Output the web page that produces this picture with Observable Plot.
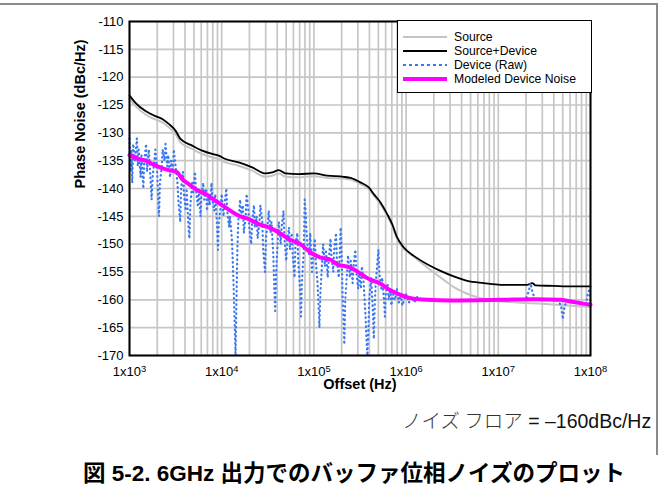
<!DOCTYPE html>
<html>
<head>
<meta charset="utf-8">
<script src="https://cdn.jsdelivr.net/npm/d3@7"></script>
<script src="https://cdn.jsdelivr.net/npm/@observablehq/plot@0.6"></script>
<style>
  html, body { margin: 0; padding: 0; background: white; }
  #wrap { position: relative; width: 663px; height: 495px; overflow: hidden; font-family: "Liberation Sans", Arial, sans-serif; }
  #chart { position: absolute; left: 0; top: 0; }
  #outer { position: absolute; left: -4px; top: 3px; width: 662px; height: 452px; border-top: 2px solid #8a8a8a; border-right: 2px solid #8a8a8a; box-sizing: border-box; }
  #legend { position: absolute; left: 397px; top: 20px; width: 195px; height: 73px; background: white; border: 1.5px solid black; box-sizing: border-box; }
  #legend .row { position: absolute; left: 0; height: 12px; font-size: 12.2px; line-height: 12px; }
  #legend svg { position: absolute; left: 5px; top: 0; }
  #legend span { position: absolute; left: 56px; top: 0; white-space: nowrap; }
  #note { position: absolute; left: 402px; top: 405px; font-size: 19.5px; white-space: nowrap; color: #111; }
  #note .jp { font-family: "Noto Sans CJK JP", sans-serif; font-weight: 300; color: #333; }
  #caption { position: absolute; left: 0; width: 708px; text-align: center; top: 455px; font-size: 22.5px; font-weight: bold; white-space: nowrap; font-family: "Liberation Sans", "Noto Sans CJK JP", sans-serif; }
</style>
</head>
<body>
<div id="wrap">
  <div id="outer"></div>
  <div id="chart"></div>
  <div id="legend"></div>
  <div id="note"><span class="jp">ノイズ フロア</span> = –160dBc/Hz</div>
  <div id="caption">図 5-2. 6GHz 出力でのバッファ位相ノイズのプロット</div>
</div>
<script>
// ---- Data (offset frequency given as log10 exponent, noise in dBc/Hz) ----
const seriesNames = ["Source", "Source+Device", "Device (Raw)", "Modeled Device Noise"];
const yTicks = [-110, -115, -120, -125, -130, -135, -140, -145, -150, -155, -160, -165, -170];
const decadeExps = [3, 4, 5, 6, 7, 8];
const minorMultipliers = [1, 2, 3, 4, 5, 6, 7, 8, 9];

const sourceExp = [3.00,3.065,3.174,3.282,3.355,3.426,3.499,3.553,3.68,3.789,3.897,3.969,4.041,4.185,4.331,4.475,4.548,4.62,4.692,4.836,4.999,5.144,5.324,5.397,5.505,5.595,5.649,5.722,5.795,5.849,5.903,5.975,6.048,6.229,6.373,6.517,6.663,6.807,7.024,7.385,7.747,8.0];
const sourceDb  = [-123.9,-125.2,-126.7,-127.6,-128.1,-129.0,-130.2,-131.7,-132.9,-133.8,-134.4,-134.7,-135.3,-135.9,-136.8,-137.9,-137.7,-137.3,-137.9,-138.0,-137.8,-138.1,-138.2,-138.4,-139.2,-140.1,-141.3,-142.8,-144.9,-146.7,-149.1,-150.9,-151.8,-154.2,-156.0,-157.7,-158.9,-159.7,-160.3,-160.6,-161.0,-161.3];

const srcDevExp = [3.00,3.065,3.174,3.282,3.355,3.426,3.499,3.553,3.68,3.789,3.897,3.969,4.041,4.185,4.331,4.475,4.548,4.62,4.692,4.836,4.999,5.144,5.324,5.397,5.505,5.595,5.649,5.722,5.795,5.849,5.903,5.975,6.084,6.229,6.373,6.517,6.663,6.843,7.024,7.313,7.368,7.404,7.603,7.747,8.0];
const srcDevDb  = [-123.3,-124.6,-126.1,-127.0,-127.5,-128.4,-129.6,-131.1,-132.3,-133.2,-133.8,-134.1,-134.7,-135.3,-136.2,-137.3,-137.1,-136.7,-137.3,-137.4,-137.3,-137.7,-137.9,-138.1,-138.9,-139.8,-141.0,-142.5,-144.6,-146.4,-148.8,-150.6,-152.1,-153.6,-154.8,-155.8,-156.6,-157.0,-157.3,-157.3,-157.0,-157.4,-157.5,-157.6,-157.6];

const rawExp = [3.00,3.01,3.02,3.03,3.04,3.06,3.08,3.09,3.10,3.12,3.13,3.15,3.16,3.18,3.19,3.21,3.22,3.24,3.25,3.27,3.28,3.30,3.31,3.32,3.33,3.35,3.36,3.38,3.39,3.41,3.42,3.44,3.45,3.47,3.48,3.50,
3.52,3.53,3.55,3.56,3.58,3.59,3.61,3.62,3.64,3.65,3.66,3.68,3.69,3.71,3.72,3.74,3.75,3.77,3.78,3.80,3.81,3.83,3.84,3.86,3.87,3.89,3.90,3.92,3.93,3.95,3.96,3.97,3.99,
4.00,4.02,4.03,4.05,4.06,4.08,4.09,4.11,4.12,4.13,4.14,4.15,4.16,4.17,4.18,4.20,4.21,4.23,4.24,4.26,4.27,4.29,4.30,4.32,4.33,4.35,4.36,4.38,4.39,4.41,4.42,4.44,4.45,4.47,4.48,4.50,
4.51,4.53,4.54,4.56,4.57,4.58,4.59,4.61,4.62,4.64,4.65,4.67,4.68,4.70,4.71,4.73,4.74,4.76,4.77,4.79,4.80,4.82,4.83,4.85,4.86,4.87,4.89,4.90,4.91,4.92,4.93,4.95,4.96,4.98,4.99,
5.01,5.02,5.04,5.05,5.06,5.07,5.09,5.10,5.12,5.13,5.15,5.16,5.18,5.19,5.21,5.22,5.24,5.25,5.27,5.28,5.29,5.30,5.31,5.32,5.33,5.34,5.36,5.37,5.39,5.40,5.42,5.43,5.45,5.46,5.48,
5.49,5.51,5.52,5.54,5.55,5.56,5.57,5.58,5.59,5.60,5.62,5.63,5.64,5.65,5.66,5.67,5.69,5.70,5.71,5.73,5.74,5.76,5.77,5.78,5.80,5.81,5.83,5.84,5.86,5.88,5.90,5.92,5.94,5.96,5.98,
6.00,6.03,6.06,6.09,6.12,6.15,6.18,6.22,6.26,6.30,6.50,6.80,7.00,7.20,7.30,7.33,7.35,7.37,7.40,7.55,7.65,7.68,7.70,7.72,7.75,7.85,7.95,7.97,7.99,8.00];
const rawDb = [-131,-137,-133,-139,-132,-135,-131,-136,-133,-138,-134,-140,-135,-132,-137,-133,-136,-142,-138,-135,-133,-137,-141,-145,-139,-136,-133,-135,-132,-136,-134,-138,-135,-137,-133,-136,
-139,-142,-146,-140,-137,-141,-144,-140,-147,-149,-143,-139,-141,-137,-140,-143,-140,-145,-141,-139,-142,-140,-144,-141,-143,-139,-142,-144,-141,-147,-151,-146,-143,
-141,-145,-143,-140,-144,-147,-145,-149,-153,-158,-164,-170,-160,-151,-146,-142,-145,-143,-148,-145,-141,-144,-147,-150,-146,-143,-147,-145,-149,-146,-143,-146,-151,-155,-149,-146,
-144,-148,-146,-152,-158,-162,-155,-149,-146,-150,-147,-144,-149,-153,-150,-147,-151,-148,-152,-156,-150,-148,-153,-158,-163,-157,-151,-142,-144,-148,-150,-152,-148,-155,-152,
-149,-153,-157,-161,-165,-159,-153,-150,-154,-151,-156,-153,-149,-152,-155,-151,-148,-153,-156,-152,-147,-151,-158,-163,-168,-160,-155,-152,-156,-153,-157,-154,-151,-155,-158,
-155,-158,-154,-157,-160,-163,-167,-170,-166,-160,-156,-159,-162,-167,-161,-157,-153,-151,-155,-158,-156,-160,-163,-159,-157,-160,-158,-161,-159,-160,-158,-160.5,-159,-161,-160,
-159,-160.5,-159.5,-160.5,-159.5,-160,-159.8,-160.2,-160,-160.1,-160.1,-160.1,-160,-160,-159.8,-158.5,-157,-158.5,-160,-160,-160.2,-161,-163.5,-161,-160.3,-160.5,-160.8,-159,-158,-160.5];

const modelExp = [3.00,3.101,3.174,3.246,3.318,3.426,3.517,3.572,3.643,3.716,3.824,3.933,4.041,4.185,4.294,4.402,4.511,4.619,4.728,4.855,4.963,5.072,5.180,5.253,5.397,5.505,5.578,5.722,5.831,5.939,6.048,6.229,6.482,7.024,7.385,7.675,7.819,8.0];
const modelDb  = [-134.0,-134.7,-135.0,-135.6,-136.1,-136.7,-137.1,-138.3,-139.2,-140.1,-141.0,-142.2,-143.4,-144.9,-145.5,-146.4,-147.0,-147.9,-149.1,-150.0,-151.5,-152.4,-152.8,-153.6,-154.2,-155.3,-156.1,-157.1,-158.3,-159.1,-159.7,-160.0,-160.1,-160.0,-159.9,-160.0,-160.4,-160.9];

const colors = ["#c4c4c4", "#000000", "#3b78f0", "#ff00ff"];
const widths = [2, 1.8, 2.2, 4];
const dashes = [null, null, "0.5,4", null];

// ---- build tables ----
const toRows = (exps, dbs) => exps.map((e, i) => ({f: Math.pow(10, e), db: dbs[i]}));
const source = toRows(sourceExp, sourceDb);
const srcDev = toRows(srcDevExp, srcDevDb);
const raw = toRows(rawExp, rawDb);
const model = toRows(modelExp, modelDb);
const decades = decadeExps.map(e => Math.pow(10, e));
const gridX = decadeExps.slice(0, -1).flatMap(e => minorMultipliers.map(m => m * Math.pow(10, e))).concat([1e8]);

const chart = Plot.plot({
  width: 663,
  height: 395,
  marginLeft: 129,
  marginRight: 73,
  marginTop: 21,
  marginBottom: 40,
  x: {type: "log", domain: [1e3, 1e8]},
  y: {domain: [-170, -110]},
  style: {fontFamily: "'Liberation Sans', Arial, sans-serif", fontSize: "13px", color: "black", background: "transparent"},
  marks: [
    Plot.ruleX(gridX, {stroke: "#c6c6c6", strokeWidth: 1.7}),
    Plot.ruleY(yTicks, {stroke: "#c6c6c6", strokeWidth: 1.7}),
    Plot.line(source, {x: "f", y: "db", stroke: colors[0], strokeWidth: widths[0], curve: "monotone-x"}),
    Plot.line(srcDev, {x: "f", y: "db", stroke: colors[1], strokeWidth: widths[1], curve: "monotone-x"}),
    Plot.line(raw, {x: "f", y: "db", stroke: colors[2], strokeWidth: widths[2], strokeDasharray: dashes[2], strokeLinecap: "round"}),
    Plot.line(model, {x: "f", y: "db", stroke: colors[3], strokeWidth: widths[3], curve: "monotone-x"}),
    Plot.frame({stroke: "black", strokeWidth: 2}),
    Plot.axisX(decades, {tickSize: 0, tickPadding: 11, label: null, fontSize: 13, tickFormat: d => `1x10^${Math.round(Math.log10(d))}`}),
    Plot.axisY(yTicks, {tickSize: 0, tickPadding: 6, label: null, fontSize: 13, tickFormat: d => String(d)}),
    Plot.text(["Offset (Hz)"], {frameAnchor: "bottom", dy: 33, fontWeight: "bold", fontSize: 14.5}),
    Plot.text(["Phase Noise (dBc/Hz)"], {frameAnchor: "left", dx: -49, rotate: -90, fontWeight: "bold", fontSize: 14.5})
  ]
});
document.getElementById("chart").appendChild(chart);

// make tick label size explicit
d3.select(chart).selectAll('g[aria-label="x-axis tick label"], g[aria-label="y-axis tick label"]')
  .style("font-size", "13px");

// superscript exponents on x tick labels
d3.select(chart).selectAll('g[aria-label="x-axis tick label"] text').each(function() {
  const t = d3.select(this);
  const [base, exp] = t.text().split("^");
  t.text(base);
  t.append("tspan").attr("dy", "-0.45em").attr("font-size", "0.72em").text(exp);
});

// legend
const legend = d3.select("#legend");
const rowTops = [9.5, 23.5, 37.5, 51.5];
seriesNames.forEach((name, i) => {
  const row = legend.append("div").attr("class", "row").style("top", rowTops[i] + "px").style("width", "190px");
  const svg = row.append("svg").attr("width", 46).attr("height", 12);
  svg.append("line").attr("x1", 0).attr("x2", 44).attr("y1", 6).attr("y2", 6)
    .attr("stroke", colors[i]).attr("stroke-width", widths[i]).attr("stroke-dasharray", i === 2 ? "3,3" : dashes[i]);
  row.append("span").text(name);
});
</script>
</body>
</html>
